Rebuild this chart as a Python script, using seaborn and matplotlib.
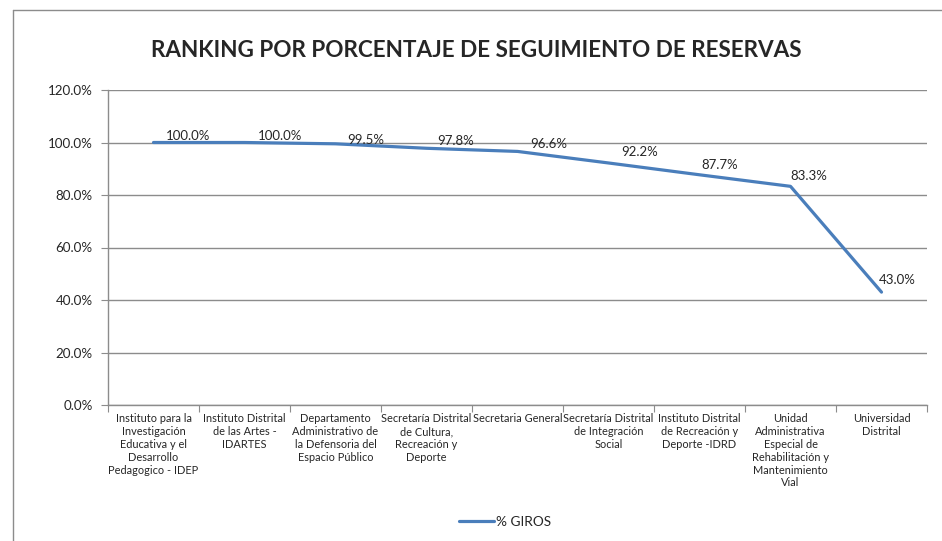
import numpy as np
import pandas as pd
import matplotlib.pyplot as plt
import seaborn as sns
from matplotlib.lines import Line2D

entidades = [
    "Instituto para la\nInvestigación\nEducativa y el\nDesarrollo\nPedagogico - IDEP",
    "Instituto Distrital\nde las Artes -\nIDARTES",
    "Departamento\nAdministrativo de\nla Defensoria del\nEspacio Público",
    "Secretaría Distrital\nde Cultura,\nRecreación y\nDeporte",
    "Secretaria General",
    "Secretaría Distrital\nde Integración\nSocial",
    "Instituto Distrital\nde Recreación y\nDeporte -IDRD",
    "Unidad\nAdministrativa\nEspecial de\nRehabilitación y\nMantenimiento\nVial",
    "Universidad\nDistrital",
]
giros = [1.000, 1.000, 0.995, 0.978, 0.966, 0.922, 0.877, 0.833, 0.430]
y_ticks = [0.0, 0.2, 0.4, 0.6, 0.8, 1.0, 1.2]

# label offsets in pixels (left edge relative to point)
lab_dx = [12, 13, 12, 11, 13, 13, 2, 0, -3]
lab_dy = [1, 1, -2, 1, 1, 5, 4, 4, 6]

sns.set_style("white")
plt.rcParams['font.family'] = ['Lato', 'DejaVu Sans']

df = pd.DataFrame({"pos": np.arange(len(giros)), "giros": giros})

fig = plt.figure(figsize=(9.42, 5.41), dpi=100)
ax = fig.add_axes([108 / 942, 1 - 405 / 541, (927 - 108) / 942, 315 / 541])

sns.lineplot(data=df, x="pos", y="giros", ax=ax, color="#4A7EBB",
             linewidth=2.3, label="% GIROS", legend=False)

ax.set_xlim(-0.5, len(giros) - 0.5)
ax.set_ylim(0, 1.2)
ax.set_yticks(y_ticks)
ax.set_yticklabels([f"{v * 100:.1f}%" for v in y_ticks], fontsize=9.6)
ax.yaxis.grid(True, color="#8c8c8c", linewidth=1)
ax.set_axisbelow(True)

ax.set_xticks(np.arange(-0.5, len(giros), 1.0))
ax.set_xticklabels([])
ax.set_xticks(np.arange(len(giros)), minor=True)
ax.set_xticklabels(entidades, minor=True, fontsize=7.9, linespacing=1.2, va="top")
ax.tick_params(axis="x", which="major", length=5, color="#8c8c8c", direction="out", bottom=True)
ax.tick_params(axis="x", which="minor", length=0, pad=6)
ax.tick_params(axis="y", length=5, color="#8c8c8c", direction="out", left=True, pad=6)
ax.set_xlabel("")
ax.set_ylabel("")

for s in ["top", "right"]:
    ax.spines[s].set_visible(False)
for s in ["left", "bottom"]:
    ax.spines[s].set_color("#8c8c8c")
    ax.spines[s].set_linewidth(1)

for i, v in enumerate(giros):
    ax.annotate(f"{v * 100:.1f}%", (i, v), xytext=(lab_dx[i], lab_dy[i]),
                textcoords="offset pixels", ha="left", va="bottom", fontsize=9.5)

fig.text(476 / 942, 1 - 50 / 541, "RANKING POR PORCENTAJE DE SEGUIMIENTO DE RESERVAS",
         ha="center", va="center", fontsize=16.2, fontweight="bold")

handle = Line2D([], [], color="#4A7EBB", linewidth=2.3)
fig.legend([handle], ["% GIROS"], loc="center", bbox_to_anchor=(505 / 942, 1 - 522 / 541),
           frameon=False, fontsize=9.8, handlelength=2.6, handletextpad=0.1)

# chart frame
fig.add_artist(Line2D([13 / 942, 13 / 942], [0, 1 - 10 / 541], color="#8c8c8c", linewidth=1))
fig.add_artist(Line2D([13 / 942, 1], [1 - 10 / 541, 1 - 10 / 541], color="#8c8c8c", linewidth=1))

fig.savefig("out.png", dpi=100)
